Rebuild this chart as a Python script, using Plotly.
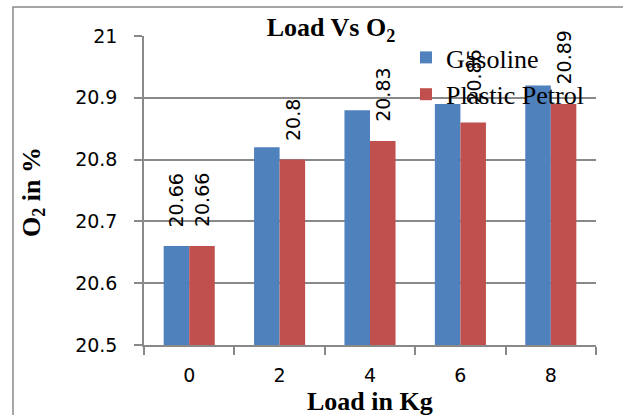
import plotly.graph_objects as go

loads = ["0", "2", "4", "6", "8"]
gasoline = [20.66, 20.82, 20.88, 20.89, 20.92]
plastic_petrol = [20.66, 20.80, 20.83, 20.86, 20.89]
gasoline_labels = ["20.66", "", "", "", ""]
plastic_labels = ["20.66", "20.8", "20.83", "20.86", "20.89"]
y_ticks = [20.5, 20.6, 20.7, 20.8, 20.9, 21]

BLUE = "#4F81BD"
RED = "#C0504D"
GREY = "#898989"
W, H = 623, 415
ML, MR, MT, MB = 144, 27, 36, 70
PW, PH = W - ML - MR, H - MT - MB

def px_x(p):
    return (p - ML) / PW

def px_y(p):
    return (H - MB - p) / PH

fig = go.Figure()
fig.add_trace(go.Bar(name="Gasoline", x=loads, y=gasoline, marker_color=BLUE,
                     marker_line_width=0))
fig.add_trace(go.Bar(name="Plastic Petrol", x=loads, y=plastic_petrol, marker_color=RED,
                     marker_line_width=0))

bargap = 0.435
half = (1 - bargap) / 4
annotations = []
for i, (v, t) in enumerate(zip(gasoline, gasoline_labels)):
    if t:
        annotations.append(dict(x=i - half, y=v, xref="x", yref="y", text=t, showarrow=False,
                                textangle=-90, yanchor="bottom", xanchor="center", yshift=17,
                                font=dict(family="DejaVu Sans", size=19, color="black")))
for i, (v, t) in enumerate(zip(plastic_petrol, plastic_labels)):
    if t:
        annotations.append(dict(x=i + half, y=v, xref="x", yref="y", text=t, showarrow=False,
                                textangle=-90, yanchor="bottom", xanchor="center", yshift=17,
                                font=dict(family="DejaVu Sans", size=19, color="black")))

annotations.append(dict(x=px_x(33), y=px_y(192), xref="paper", yref="paper",
                        text="<b>O<sub>2</sub> in %</b>", showarrow=False, textangle=-90,
                        xanchor="center", yanchor="middle",
                        font=dict(family="Liberation Serif", size=26, color="black")))
annotations.append(dict(x=px_x(370), y=px_y(401), xref="paper", yref="paper",
                        text="<b>Load in Kg</b>", showarrow=False,
                        xanchor="center", yanchor="middle",
                        font=dict(family="Liberation Serif", size=26, color="black")))

shapes = [dict(type="rect", xref="paper", yref="paper",
               x0=px_x(13), x1=px_x(640), y0=px_y(430), y1=px_y(7),
               line=dict(color=GREY, width=1.5), fillcolor="rgba(0,0,0,0)", layer="below")]

fig.update_layout(
    width=W, height=H,
    margin=dict(l=ML, r=MR, t=MT, b=MB, autoexpand=False),
    paper_bgcolor="white", plot_bgcolor="white",
    barmode="group", bargap=bargap, bargroupgap=0,
    title=dict(text="<b>Load Vs O<sub>2</sub></b>", x=331 / W, xref="container", xanchor="center",
               y=1 - 27 / H, yref="container", yanchor="middle",
               font=dict(family="Liberation Serif", size=26, color="black")),
    legend=dict(x=px_x(406), y=px_y(34), xanchor="left", yanchor="top",
                bgcolor="rgba(0,0,0,0)", borderwidth=0,
                font=dict(family="Liberation Serif", size=26, color="black"),
                tracegroupgap=0),
    annotations=annotations,
    shapes=shapes,
    showlegend=True,
)
fig.update_xaxes(type="category", tickson="boundaries", ticks="outside", ticklen=8,
                 tickcolor=GREY, tickwidth=1.5, showline=True, linecolor=GREY, linewidth=1.5,
                 showgrid=False, tickfont=dict(family="DejaVu Sans", size=19, color="black"),
                 ticklabelstandoff=12)
fig.update_yaxes(range=[20.5, 21], tickvals=y_ticks, ticktext=[f"{v:g}" for v in y_ticks],
                 ticks="outside", ticklen=8, tickcolor=GREY, tickwidth=1.5,
                 showline=True, linecolor=GREY, linewidth=1.5,
                 showgrid=True, gridcolor=GREY, gridwidth=1.5, zeroline=False,
                 tickfont=dict(family="DejaVu Sans", size=19, color="black"),
                 ticklabelstandoff=13)

fig.write_html("out.html")
